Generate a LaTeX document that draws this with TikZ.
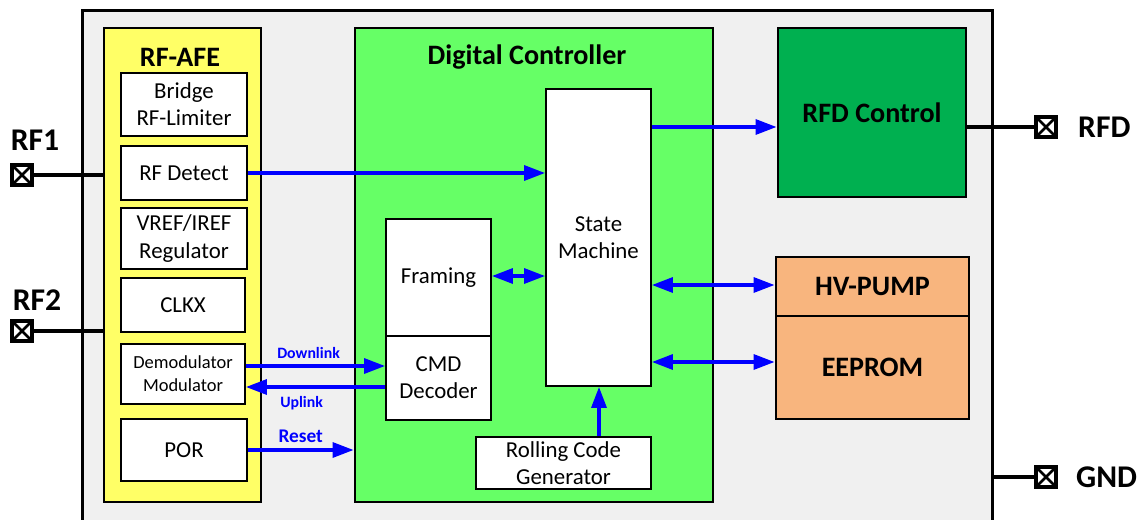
\documentclass[tikz,border=0pt]{standalone}
\usepackage{fontspec}
\setmainfont{Carlito}
\usetikzlibrary{arrows.meta}
\definecolor{chipgray}{HTML}{F0F0F0}
\definecolor{afeyellow}{HTML}{FFFF66}
\definecolor{dcgreen}{HTML}{66FF66}
\definecolor{rfdgreen}{HTML}{00B050}
\definecolor{memorange}{HTML}{F8B57E}

\begin{document}
\begin{tikzpicture}[x=0.02cm, y=-0.02cm,
  blk/.style={draw, line width=1pt, fill=white, align=center, inner sep=0pt, font=\fontsize{13}{15.5}\selectfont},
  unit/.style={draw, line width=1.6pt, inner sep=0pt},
  sig/.style={draw=blue, line width=2pt, -{Triangle[length=12pt, width=8.5pt]}},
  bisig/.style={draw=blue, line width=2pt, {Triangle[length=12pt, width=8.5pt]}-{Triangle[length=12pt, width=8.5pt]}},
  wire/.style={draw, line width=1.9pt},
  pad/.style={draw, line width=2pt, minimum size=0.4cm, inner sep=0pt, fill=white,
    path picture={\draw[line width=1.5pt] (path picture bounding box.north west) -- (path picture bounding box.south east)
      (path picture bounding box.south west) -- (path picture bounding box.north east);}},
  padname/.style={font=\bfseries\fontsize{18}{20}\selectfont},
  sigtext/.style={text=blue, font=\bfseries\fontsize{9}{10}\selectfont}]
\useasboundingbox (0,0) rectangle (1145,520);

% chip outline
\node[unit, line width=1.7pt, fill=chipgray, minimum width=18.22cm, minimum height=10.6cm] (chip) at (537.5,275) {};

% RF-AFE
\node[unit, fill=afeyellow, minimum width=3.14cm, minimum height=9.48cm] (afe) at (182.5,265) {};
\node[font=\bfseries\fontsize{16}{18}\selectfont] (afetitle) at (180,57) {RF-AFE};
\node[blk, minimum width=2.52cm, minimum height=1.26cm] (bridge) at (184,104.5) {Bridge\\RF-Limiter};
\node[blk, minimum width=2.52cm, minimum height=1.08cm] (detect) at (184,173) {RF Detect};
\node[blk, minimum width=2.52cm, minimum height=1.22cm] (vref) at (184,238.5) {VREF/IREF\\Regulator};
\node[blk, minimum width=2.48cm, minimum height=1.08cm] (clkx) at (183,305) {CLKX};
\node[blk, minimum width=2.48cm, minimum height=1.2cm, font=\fontsize{10.5}{13}\selectfont] (demod) at (183,374) {Demodulator\\Modulator};
\node[blk, minimum width=2.52cm, minimum height=1.24cm] (por) at (184,450) {POR};

% Digital Controller
\node[unit, fill=dcgreen, minimum width=7.16cm, minimum height=9.48cm] (dc) at (534,265) {};
\node[font=\bfseries\fontsize{16}{18}\selectfont] (dctitle) at (527,57) {Digital Controller};
\node[blk, minimum width=2.1cm, minimum height=5.94cm] (sm) at (598.5,237.5) {};
\node[font=\fontsize{13}{15.5}\selectfont, align=center] (smtext) at (598.5,238) {State\\Machine};
\node[blk, minimum width=2.1cm, minimum height=2.34cm] (framing) at (438.5,277.5) {Framing};
\node[blk, minimum width=2.1cm, minimum height=1.68cm] (cmd) at (438.5,378) {CMD\\Decoder};
\node[blk, minimum width=3.5cm, minimum height=1.04cm] (rolling) at (563.5,463) {Rolling Code\\Generator};

% right side blocks
\node[unit, fill=rfdgreen, minimum width=3.76cm, minimum height=3.38cm, font=\bfseries\fontsize{16}{18}\selectfont] (rfd) at (872,112.5) {RFD Control};
\node[unit, fill=memorange, minimum width=3.86cm, minimum height=1.18cm, font=\bfseries\fontsize{16}{18}\selectfont] (hv) at (872.5,286.5) {HV-PUMP};
\node[unit, fill=memorange, minimum width=3.86cm, minimum height=2.06cm, font=\bfseries\fontsize{16}{18}\selectfont] (eeprom) at (872.5,367.5) {EEPROM};

% pads
\node[pad] (rf1pad) at (22,175) {};
\node[padname] (rf1) at (35,140) {RF1};
\node[pad] (rf2pad) at (22,331) {};
\node[padname] (rf2) at (37,300) {RF2};
\node[pad] (rfdpad) at (1046,127) {};
\node[padname, anchor=west] (rfdname) at (1072,127) {RFD};
\node[pad] (gndpad) at (1046,477) {};
\node[padname, anchor=west] (gnd) at (1070,477) {GND};

\coordinate (rfdlevel) at (700,127);
\coordinate (eelevel) at (700,362);
\coordinate (dnlevel) at (300,366);
\coordinate (uplevel) at (300,387);

% pad wires
\draw[wire] (rf1pad.east) -- (rf1pad.east -| afe.west);
\draw[wire] (rf2pad.east) -- (rf2pad.east -| afe.west);
\draw[wire] (rfdpad.west -| rfd.east) -- (rfdpad.west);
\draw[wire] (gndpad.west -| chip.east) -- (gndpad.west);

% signals
\draw[sig] (detect.east) -- (detect.east -| sm.west);
\draw[sig] (rfdlevel -| sm.east) -- (rfdlevel -| rfd.west);
\draw[bisig] (framing.east |- 0,276) -- (sm.west |- 0,276);
\draw[bisig] (sm.east |- 0,285) -- (hv.west |- 0,285);
\draw[bisig] (eelevel -| sm.east) -- (eelevel -| eeprom.west);
\draw[sig] (dnlevel -| demod.east) -- (dnlevel -| cmd.west) node[sigtext, pos=0.45, above=0pt] {Downlink};
\draw[sig] (uplevel -| cmd.west) -- (uplevel -| demod.east) node[sigtext, pos=0.6, below=1pt] {Uplink};
\draw[sig] (por.east) -- (por.east -| dc.west) node[sigtext, font=\bfseries\fontsize{11}{12}\selectfont, pos=0.5, above=0pt] {Reset};
\draw[sig] (rolling.north -| 599,0) -- (sm.south -| 599,0);

\end{tikzpicture}
\end{document}
